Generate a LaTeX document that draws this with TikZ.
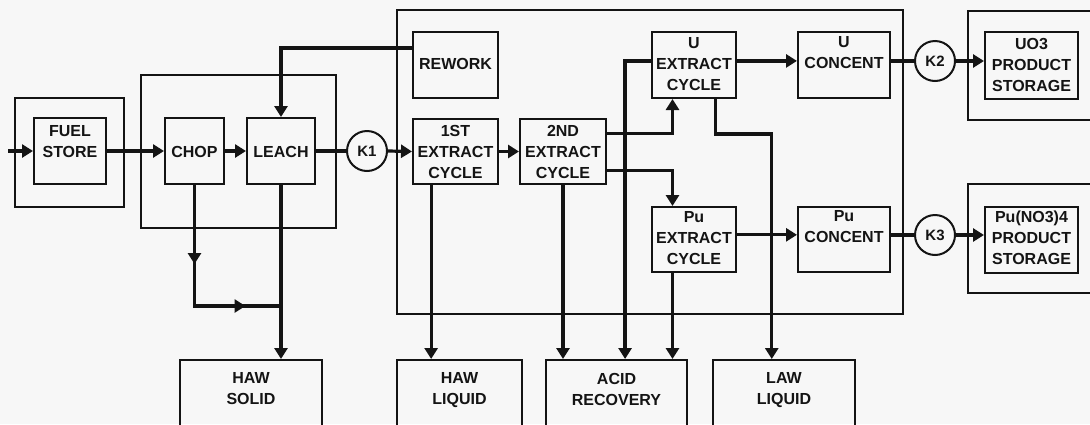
\documentclass[tikz,border=0pt]{standalone}
\usepackage{fontspec}
\setmainfont{Liberation Sans}
\usetikzlibrary{arrows.meta,calc,decorations.markings}
\definecolor{bg}{RGB}{247,247,247}
\definecolor{ink}{RGB}{20,20,20}
\tikzset{
  box/.style={draw=ink, line width=2pt, rectangle, inner sep=0pt},
  txt/.style={font=\fontsize{16}{21}\selectfont\bfseries, align=center, inner sep=0pt, text=ink},
  conn/.style={draw=ink, line width=3.2pt},
  arr/.style={conn, -{Triangle[length=11pt,width=13pt]}},
  kc/.style={circle, draw=ink, line width=2pt, minimum size=40pt, inner sep=0pt, fill=bg,
             font=\fontsize{15}{17}\selectfont\bfseries, text=ink}
}
\newcommand\mkbox[5]{\node[box, minimum width={(#4-#2)*1pt}, minimum height={(#5-#3)*1pt}] (#1) at ({(#2+#4)/2},{(#3+#5)/2}) {};}
\begin{document}
\begin{tikzpicture}[x=1pt,y=-1pt]
\useasboundingbox (0,0) rectangle (1090,424);
\fill[bg] (0,0) rectangle (1090,424);
\clip (0,0) rectangle (1090,424);
% outer boxes
\mkbox{ofuel}{15}{98}{124}{207}
\mkbox{ochop}{141}{75}{336}{228}
\mkbox{omain}{397}{10}{903}{314}
\mkbox{ouo}{968}{11}{1100}{120}
\mkbox{opu}{968}{184}{1100}{293}
% inner boxes
\mkbox{fuel}{34}{118}{106}{184}
\mkbox{chop}{165}{118}{224}{184}
\mkbox{leach}{247}{118}{315}{184}
\mkbox{rework}{413}{32}{498}{98}
\mkbox{x1}{413}{119}{498}{184}
\mkbox{x2}{520}{119}{606}{184}
\mkbox{u}{652}{32}{736}{98}
\mkbox{pu}{652}{207}{736}{272}
\mkbox{ucon}{798}{32}{890}{98}
\mkbox{pucon}{798}{207}{890}{272}
\mkbox{uo3}{985}{32}{1078}{99}
\mkbox{puno}{985}{207}{1078}{273}
\mkbox{hs}{180}{360}{322}{432}
\mkbox{hl}{397}{360}{522}{432}
\mkbox{acid}{546}{360}{687}{432}
\mkbox{law}{713}{360}{855}{432}
% texts
\node[txt] (fuel-t) at (70,141.5) {FUEL\\STORE};
\node[txt] (chop-t) at (194.5,152) {CHOP};
\node[txt] (leach-t) at (281,152) {LEACH};
\node[txt] (rework-t) at (455.5,64) {REWORK};
\node[txt] (x1-t) at (455.5,152) {1ST\\EXTRACT\\CYCLE};
\node[txt] (x2-t) at (563,152) {2ND\\EXTRACT\\CYCLE};
\node[txt] (u-t) at (694,64) {U\\EXTRACT\\CYCLE};
\node[txt] (pu-t) at (694,238) {Pu\\EXTRACT\\CYCLE};
\node[txt] (ucon-t) at (844,53) {U\\CONCENT};
\node[txt] (pucon-t) at (844,227) {Pu\\CONCENT};
\node[txt] (uo3-t) at (1031.5,65) {UO3\\PRODUCT\\STORAGE};
\node[txt] (puno-t) at (1031.5,238) {Pu(NO3)4\\PRODUCT\\STORAGE};
\node[txt] (hs-t) at (251,390.5) {HAW\\SOLID\vphantom{Q}};
\node[txt] (hl-t) at (459.5,390.5) {HAW\\LIQUID};
\node[txt] (acid-t) at (616.5,390.5) {ACID\\RECOVERY\vphantom{Q}};
\node[txt] (law-t) at (784,390.5) {LAW\\LIQUID};
% circles
\node[kc] (k1) at (367,151) {K1};
\node[kc] (k2) at (935,61) {K2};
\node[kc] (k3) at (935,235) {K3};
% coordinates
\coordinate (in) at (8,151);
\coordinate (rw) at ($(rework.north west)!0.25!(rework.south west)$);
\coordinate (x1d) at ($(x1.south west)!0.22!(x1.south east)$);
\coordinate (x2a) at ($(x2.north east)!0.23!(x2.south east)$);
\coordinate (x2b) at ($(x2.north east)!0.78!(x2.south east)$);
\coordinate (ub1) at ($(u.south west)!0.25!(u.south east)$);
\coordinate (ub2) at ($(u.south west)!0.75!(u.south east)$);
\coordinate (pt1) at ($(pu.north west)!0.25!(pu.north east)$);
\coordinate (pb1) at ($(pu.south west)!0.25!(pu.south east)$);
\coordinate (uw) at ($(u.north west)!0.44!(u.south west)$);
\coordinate (ue) at ($(u.north east)!0.44!(u.south east)$);
\coordinate (pe) at ($(pu.north east)!0.43!(pu.south east)$);
\coordinate (ac2) at ($(acid.north west)!0.56!(acid.north east)$);
\coordinate (lw) at ($(law.north west)!0.415!(law.north east)$);
\coordinate (j1) at ($(leach.south)+(0,121)$);
% connectors
\draw[arr] (in) -- (fuel.west);
\draw[arr] (fuel.east) -- (chop.west);
\draw[arr] (chop.east) -- (leach.west);
\draw[conn] (leach.east) -- (k1.west);
\draw[arr] (k1.east) -- (x1.west);
\draw[arr] (rw) -| (leach.north);
\draw[arr] (x1.east) -- (x2.west);
\draw[arr] (x1d) -- (x1d |- hl.north);
\draw[arr] (x2a) -| (ub1);
\draw[arr] (x2b) -| (pt1);
\draw[arr] (uw) -| (ac2);
\draw[arr] (x2.south) -- (x2.south |- acid.north);
\draw[arr] (pb1) -- (pb1 |- acid.north);
\draw[arr] (ub2) -- ++(0,35) -| (lw);
\draw[arr] (ue) -- (ue -| ucon.west);
\draw[conn] (ucon.east |- k2) -- (k2.west);
\draw[arr] (k2.east) -- (k2.east -| uo3.west);
\draw[arr] (pe) -- (pe -| pucon.west);
\draw[conn] (pucon.east |- k3) -- (k3.west);
\draw[arr] (k3.east) -- (k3.east -| puno.west);
\draw[arr] (leach.south) -- (leach.south |- hs.north);
\draw[conn, postaction=decorate, decoration={markings,
   mark=at position 79pt with {\arrow{Triangle[length=11pt,width=13pt]}},
   mark=at position 172pt with {\arrow{Triangle[length=11pt,width=13pt]}}}]
   (chop.south) |- (j1);
\end{tikzpicture}
\end{document}
